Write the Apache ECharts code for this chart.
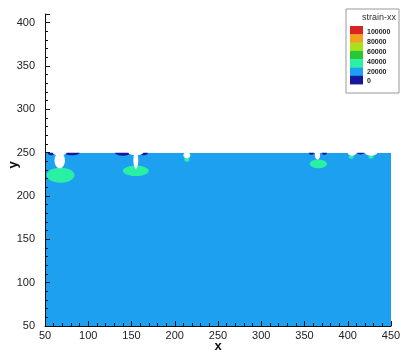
<!DOCTYPE html>
<html><head><meta charset="utf-8">
<script src="https://cdn.jsdelivr.net/npm/echarts@6/dist/echarts.min.js"></script>
<style>html,body{margin:0;padding:0;background:#fff}#c{width:401px;height:354px}</style>
</head><body><div id="c"></div>
<script>
// axis ranges / ticks
const xRange = [50, 450];
const yRange = [50, 410];
const tickStep = 50;
const xName = 'x', yName = 'y';
// legend
const legendTitle = 'strain-xx';
const legendLevels = [100000, 80000, 60000, 40000, 20000, 0];
const legendColors = ['#d8261e', '#f2a01e', '#a8e01e', '#26c834', '#2af0a4', '#1ea0f0', '#16169e'];
// contour regions (data units)
const field = [[50, 50, 450, 250]];                       // x0, y0, x1, y1 : 20000-level band
const fieldColor = '#1ea0f0';
const highBlobs = [[68, 224, 16, 8.7], [155, 229, 15, 6], [366, 237, 10, 5], [214, 242, 3, 2.5], [404, 245, 3, 2], [427, 245, 3, 2]]; // cx, cy, rx, ry : 40000-level
const lowPatches = [[57, 250, 4, 3], [81, 250, 9, 3], [140, 250, 9, 3.5], [164, 250, 5, 3], [358, 250, 3, 2.5], [373, 250, 3, 2.5], [415, 250, 4, 2]]; // 0-level
const holes = [[67, 241, 6, 9], [67, 250, 8, 3], [155, 241, 2.8, 9.5], [155, 250, 8.5, 3], [214, 247, 4, 3.5], [365, 247, 3, 5], [405, 250, 5, 3.5], [427, 250, 7, 3.5]]; // blank
const cover = [[50, 250, 450, 410]];

function rectItem(color) {
  return function (params, api) {
    const p0 = api.coord([api.value(0), api.value(1)]);
    const p1 = api.coord([api.value(2), api.value(3)]);
    return { type: 'rect', shape: { x: Math.min(p0[0], p1[0]), y: Math.min(p0[1], p1[1]), width: Math.abs(p1[0] - p0[0]), height: Math.abs(p1[1] - p0[1]) }, style: { fill: color } };
  };
}
function ellipseItem(color) {
  return function (params, api) {
    const c = api.coord([api.value(0), api.value(1)]);
    const s = api.size([api.value(2), api.value(3)]);
    const pts = [];
    for (let i = 0; i < 48; i++) {
      const a = i / 48 * Math.PI * 2;
      pts.push([c[0] + s[0] * Math.cos(a), c[1] + s[1] * Math.sin(a)]);
    }
    return { type: 'polygon', shape: { points: pts, smooth: 0 }, style: { fill: color } };
  };
}

const chart = echarts.init(document.getElementById('c'), null, { renderer: 'canvas' });
const font = 'Liberation Sans, Arial, sans-serif';
const axisCommon = {
  type: 'value', interval: tickStep, z: 10,
  axisLine: { show: true, lineStyle: { color: '#111', width: 1 } },
  axisTick: { show: true, inside: true, length: 5, lineStyle: { color: '#111' } },
  minorTick: { show: true, splitNumber: 5, length: 3, lineStyle: { color: '#111' } },
  splitLine: { show: false },
  axisLabel: { fontFamily: font, fontSize: 11, color: '#222', formatter: v => (v % tickStep === 0 ? String(v) : '') }
};

const g = [];
// axis titles
g.push({ type: 'text', x: 218, y: 346, style: { text: xName, fontFamily: font, fontSize: 13, fontWeight: 'bold', fill: '#111', align: 'center', verticalAlign: 'middle' }, z: 21 });
g.push({ type: 'text', x: 13, y: 165, rotation: Math.PI / 2, style: { text: yName, fontFamily: font, fontSize: 13, fontWeight: 'bold', fill: '#111', align: 'center', verticalAlign: 'middle' }, z: 21 });
// legend
const lx = 346, ly = 9, lw = 53, lh = 84;
g.push({ type: 'rect', shape: { x: lx, y: ly, width: lw, height: lh }, style: { fill: '#fff', stroke: '#999', lineWidth: 1 }, z: 20 });
g.push({ type: 'text', x: lx + 50, y: ly + 9, style: { text: legendTitle, fontFamily: font, fontSize: 9, fill: '#333', align: 'right', verticalAlign: 'middle' }, z: 21 });
const boxH = 8.3, boxTop = 26;
legendColors.forEach((c, i) => {
  g.push({ type: 'rect', shape: { x: 350, y: boxTop + i * boxH, width: 13, height: boxH + 0.3 }, style: { fill: c }, z: 21 });
});
legendLevels.forEach((v, i) => {
  g.push({ type: 'text', x: 367, y: 32 + i * 9.9, style: { text: String(v), fontFamily: font, fontSize: 7, fontWeight: 'bold', fill: '#222', align: 'left', verticalAlign: 'middle' }, z: 21 });
});

chart.setOption({
  animation: false,
  backgroundColor: '#fff',
  grid: { left: 45, right: 10, top: 14, bottom: 28, containLabel: false, outerBoundsMode: 'none' },
  xAxis: Object.assign({}, axisCommon, { min: xRange[0], max: xRange[1],
    axisLabel: Object.assign({}, axisCommon.axisLabel, { margin: 4 }) }),
  yAxis: Object.assign({}, axisCommon, { min: yRange[0], max: yRange[1],
    axisLabel: Object.assign({}, axisCommon.axisLabel, { margin: 10 }) }),
  graphic: g,
  series: [
    { type: 'custom', z: 2, renderItem: rectItem(fieldColor), data: field, clip: true, silent: true },
    { type: 'custom', z: 3, renderItem: ellipseItem(legendColors[4]), data: highBlobs, clip: true, silent: true },
    { type: 'custom', z: 4, renderItem: ellipseItem(legendColors[6]), data: lowPatches, clip: true, silent: true },
    { type: 'custom', z: 5, renderItem: ellipseItem('#ffffff'), data: holes, clip: true, silent: true },
    { type: 'custom', z: 6, renderItem: rectItem('#ffffff'), data: cover, clip: true, silent: true }
  ]
});
</script>
</body></html>
